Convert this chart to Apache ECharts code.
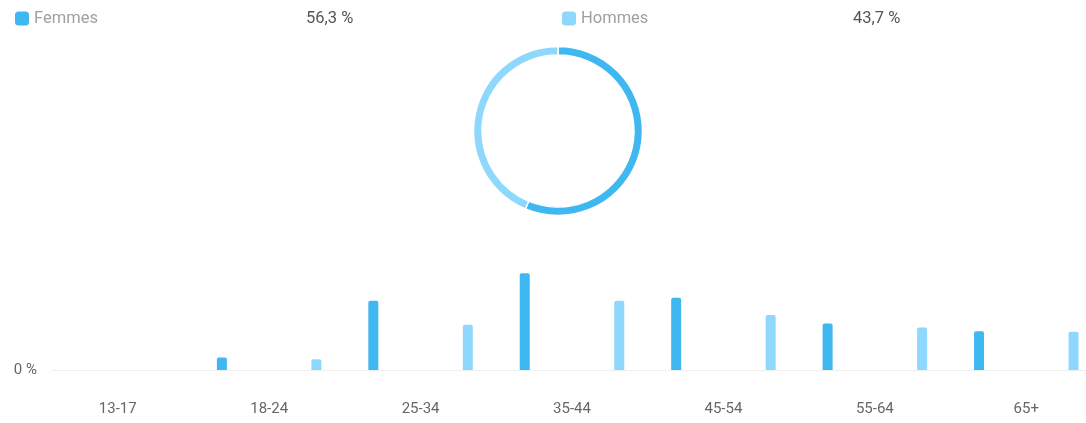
<!DOCTYPE html>
<html><head><meta charset="utf-8">
<script src="https://cdn.jsdelivr.net/npm/echarts@6/dist/echarts.min.js"></script>
<style>html,body{margin:0;padding:0;background:#fff}#c{width:1086px;height:423px}</style>
</head><body><div id="c"></div>
<script>
const categories = ['13-17','18-24','25-34','35-44','45-54','55-64','65+'];
const femmes = [0, 2.1, 11.6, 16.2, 12.1, 7.8, 6.5];
const hommes = [0, 1.8, 7.6, 11.6, 9.2, 7.1, 6.4];
const seriesNames = ['Femmes','Hommes'];
const totals = [56.3, 43.7];
const colors = ['#3fb7f1','#8ed8fd'];
const fmt = v => v.toFixed(1).replace('.', ',') + ' %';

const chart = echarts.init(document.getElementById('c'), null, {renderer:'canvas'});
function legendFor(i, left){
  return {
    data:[seriesNames[i]], left:left, top:5, icon:'roundRect', itemWidth:14, itemHeight:14, itemGap:0,
    selectedMode:false,
    formatter: n => '{a|' + n + '}{b|' + fmt(totals[i]) + '}',
    textStyle:{ rich:{
      a:{fontFamily:'Roboto', fontSize:16.5, color:'#a0a0a0', width:272},
      b:{fontFamily:'Roboto', fontSize:16.5, color:'#555'}
    }}
  };
}
chart.setOption({
  animation:false,
  color: colors,
  legend:[legendFor(0,10), legendFor(1,557)],
  grid:[
    {left:42, width:1060, top:250.6, bottom:53, outerBoundsMode:'none', containLabel:false},
    {left:52, right:0, top:250.6, bottom:53, outerBoundsMode:'none', containLabel:false}
  ],
  xAxis:[
    {type:'category', gridIndex:0, data:categories, axisLine:{show:false}, axisTick:{show:false},
     axisLabel:{margin:32, fontFamily:'Roboto', fontSize:15, color:'#666'}},
    {type:'category', gridIndex:1, data:categories, axisLine:{show:true, lineStyle:{color:'#eeeeee', width:1}},
     axisTick:{show:false}, axisLabel:{show:false}}
  ],
  yAxis:[
    {type:'value', gridIndex:0, min:0, max:20, interval:20, splitLine:{show:false},
     axisLabel:{show:false}},
    {type:'value', gridIndex:1, min:0, max:20, interval:20, splitLine:{show:false},
     axisLabel:{margin:15, fontFamily:'Roboto', fontSize:15, color:'#666',
       formatter: v => v === 0 ? '0 %' : ''}}
  ],
  series:[
    {name:seriesNames[0], type:'bar', xAxisIndex:0, yAxisIndex:0, data:femmes, barWidth:10, barGap:'845%',
     itemStyle:{color:colors[0], borderRadius:[2,2,0,0]}},
    {name:seriesNames[1], type:'bar', xAxisIndex:0, yAxisIndex:0, data:hommes, barWidth:10, barGap:'845%',
     itemStyle:{color:colors[1], borderRadius:[2,2,0,0]}},
    {type:'pie', center:[558,131], radius:[76,84.5], startAngle:90, clockwise:true,
     label:{show:false}, labelLine:{show:false}, silent:true,
     itemStyle:{borderColor:'#fff', borderWidth:1.5},
     data: seriesNames.map((n,i)=>({name:n, value:totals[i], itemStyle:{color:colors[i]}}))}
  ]
});
</script></body></html>
